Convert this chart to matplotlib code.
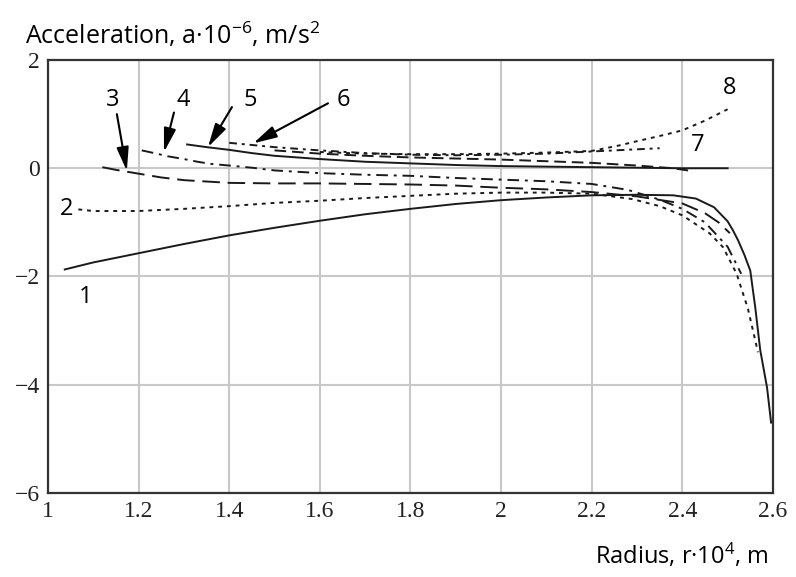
import matplotlib
matplotlib.use('Agg')
import matplotlib.pyplot as plt

plt.rcParams['mathtext.fontset'] = 'custom'
plt.rcParams['mathtext.rm'] = 'Open Sans'
plt.rcParams['mathtext.it'] = 'Open Sans'
plt.rcParams['mathtext.default'] = 'rm'

# curve data (r in 1e4 m, a in 1e-6 m/s^2)
r1 = [1.037, 1.1, 1.2, 1.3, 1.4, 1.5, 1.6, 1.7, 1.8, 1.9, 2.0, 2.1, 2.2, 2.3, 2.38, 2.43,
      2.47, 2.5, 2.512, 2.523, 2.537, 2.55, 2.561, 2.572, 2.587, 2.596]
a1 = [-1.87, -1.74, -1.57, -1.40, -1.24, -1.10, -0.97, -0.85, -0.75, -0.66, -0.59, -0.54,
      -0.50, -0.49, -0.50, -0.56, -0.72, -0.98, -1.15, -1.33, -1.60, -1.89, -2.57, -3.36,
      -4.05, -4.70]

r2 = [1.067, 1.1, 1.2, 1.3, 1.4, 1.5, 1.6, 1.7, 1.8, 1.9, 2.0, 2.1, 2.2, 2.29, 2.35, 2.4,
      2.46, 2.49, 2.52, 2.545, 2.567]
a2 = [-0.76, -0.79, -0.79, -0.75, -0.70, -0.64, -0.60, -0.55, -0.51, -0.47, -0.45, -0.45,
      -0.47, -0.57, -0.70, -0.87, -1.20, -1.46, -1.95, -2.60, -3.40]

r3 = [1.12, 1.15, 1.2, 1.25, 1.3, 1.4, 1.5, 1.6, 1.7, 1.8, 1.9, 2.0, 2.1, 2.2, 2.3, 2.4,
      2.45, 2.48, 2.505]
a3 = [0.02, -0.03, -0.10, -0.17, -0.22, -0.27, -0.28, -0.28, -0.29, -0.30, -0.32, -0.36,
      -0.39, -0.44, -0.52, -0.65, -0.83, -1.00, -1.20]

r4 = [1.207, 1.24, 1.265, 1.3, 1.33, 1.36, 1.4, 1.45, 1.5, 1.6, 1.7, 1.8, 1.9, 2.0, 2.1,
      2.2, 2.28, 2.35, 2.4, 2.45, 2.5, 2.53]
a4 = [0.33, 0.27, 0.22, 0.17, 0.12, 0.08, 0.05, 0.01, -0.04, -0.09, -0.12, -0.14, -0.18,
      -0.21, -0.24, -0.29, -0.40, -0.58, -0.75, -1.00, -1.45, -1.95]

r5 = [1.307, 1.35, 1.4, 1.45, 1.5, 1.6, 1.7, 1.8, 1.9, 2.0, 2.1, 2.2, 2.3, 2.4, 2.5]
a5 = [0.44, 0.39, 0.34, 0.28, 0.23, 0.17, 0.12, 0.09, 0.06, 0.04, 0.03, 0.02, 0.01, 0.0, 0.0]

r6 = [1.40, 1.5, 1.6, 1.7, 1.8, 1.9, 2.0, 2.1, 2.2, 2.3, 2.35]
a6 = [0.47, 0.39, 0.33, 0.28, 0.25, 0.24, 0.25, 0.27, 0.31, 0.35, 0.37]

r7 = [1.5, 1.6, 1.7, 1.8, 1.9, 2.0, 2.1, 2.2, 2.3, 2.38, 2.42]
a7 = [0.33, 0.27, 0.23, 0.20, 0.18, 0.16, 0.13, 0.10, 0.05, 0.0, -0.05]

r8 = [1.6, 1.7, 1.8, 1.9, 2.0, 2.1, 2.2, 2.26, 2.3, 2.357, 2.4, 2.45, 2.5]
a8 = [0.30, 0.27, 0.26, 0.26, 0.27, 0.29, 0.32, 0.42, 0.50, 0.61, 0.70, 0.88, 1.09]

x_ticks = [1, 1.2, 1.4, 1.6, 1.8, 2, 2.2, 2.4, 2.6]
x_labels = ['1', '1.2', '1.4', '1.6', '1.8', '2', '2.2', '2.4', '2.6']
y_ticks = [-6, -4, -2, 0, 2]
y_labels = ['\u22126', '\u22124', '\u22122', '0', '2']

fig = plt.figure(figsize=(7.96, 5.77), dpi=100)
ax = fig.add_axes([0.0603, 0.1456, 0.9107, 0.7504])

ink = '#1a1a1a'
lw = 1.4
ax.plot(r1, a1, color=ink, lw=lw, ls='-')
ax.plot(r2, a2, color=ink, lw=lw, ls=(0, (2, 2.5)))
ax.plot(r3, a3, color=ink, lw=lw, ls=(0, (9, 4)))
ax.plot(r4, a4, color=ink, lw=lw, ls=(0, (6, 3, 1.5, 3)))
ax.plot(r5, a5, color=ink, lw=lw, ls='-')
ax.plot(r6, a6, color=ink, lw=lw, ls=(0, (4, 2.5, 1.5, 2.5)))
ax.plot(r7, a7, color=ink, lw=lw, ls=(0, (6, 3)))
ax.plot(r8, a8, color=ink, lw=lw, ls=(0, (2, 2.5)))

ax.set_xlim(1, 2.6)
ax.set_ylim(-6, 2)
ax.set_xticks(x_ticks)
ax.set_xticklabels(x_labels)
ax.set_yticks(y_ticks)
ax.set_yticklabels(y_labels)
ax.tick_params(length=0, labelsize=17, pad=6, colors='#222222')
for t in ax.get_xticklabels() + ax.get_yticklabels():
    t.set_family('Liberation Serif')
ax.grid(True, color='#c8c8c8', lw=1.5)
for s in ax.spines.values():
    s.set_linewidth(1.6)
    s.set_color('#333333')

lab = dict(fontsize=17, family='Open Sans', color='black', ha='center', va='center')
ax.text(1.082, -2.37, '1', **lab)
ax.text(1.042, -0.76, '2', **lab)
ax.text(1.143, 1.26, '3', **lab)
ax.text(1.298, 1.26, '4', **lab)
ax.text(1.446, 1.26, '5', **lab)
ax.text(1.651, 1.26, '6', **lab)
ax.text(2.433, 0.43, '7', **lab)
ax.text(2.505, 1.48, '8', **lab)

arr = dict(arrowstyle='-|>,head_length=1.1,head_width=0.28', color='black', lw=1.5,
           mutation_scale=13, shrinkA=0, shrinkB=0)
ax.annotate('', xy=(1.174, -0.05), xytext=(1.152, 1.00), arrowprops=arr)
ax.annotate('', xy=(1.256, 0.30), xytext=(1.278, 1.03), arrowprops=arr)
ax.annotate('', xy=(1.353, 0.39), xytext=(1.406, 1.13), arrowprops=arr)
ax.annotate('', xy=(1.453, 0.46), xytext=(1.618, 1.20), arrowprops=arr)

fig.text(25 / 796, 1 - 35 / 577, 'Acceleration, a\u00b710$^{-6}$, m/s$^{2}$',
         fontsize=18, family='Open Sans', ha='left', va='center')
fig.text(768 / 796, 1 - 556 / 577, 'Radius, r\u00b710$^{4}$, m',
         fontsize=17, family='Open Sans', ha='right', va='center')

fig.savefig('out.png', dpi=100)
